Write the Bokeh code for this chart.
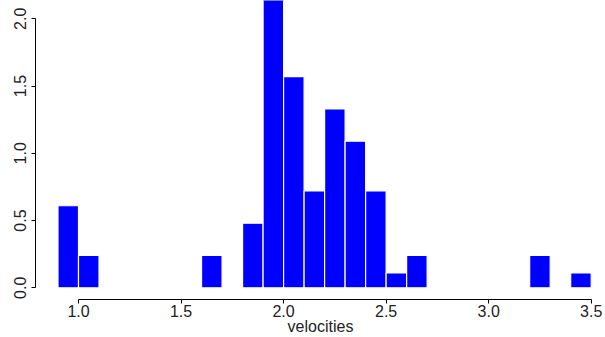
from bokeh.plotting import figure
from bokeh.models import Range1d, FixedTicker, PrintfTickFormatter
from bokeh.embed import file_html
from bokeh.resources import INLINE

# histogram of velocities (density scale), bin width 0.1
bin_left = [0.9, 1.0, 1.6, 1.8, 1.9, 2.0, 2.1, 2.2, 2.3, 2.4, 2.5, 2.6, 3.2, 3.4]
density = [0.61, 0.24, 0.24, 0.48, 2.2, 1.57, 0.72, 1.33, 1.09, 0.72, 0.11, 0.24, 0.24, 0.11]
bin_width = 0.1
x_ticks = [1.0, 1.5, 2.0, 2.5, 3.0, 3.5]
y_ticks = [0.0, 0.5, 1.0, 1.5, 2.0]
x_label = "velocities"

bin_right = [b + bin_width for b in bin_left]

p = figure(width=605, height=337, output_backend="svg", toolbar_location=None,
           x_range=Range1d(0.7903, 3.5697), y_range=Range1d(-0.0871, 2.136),
           min_border_left=35, min_border_right=0, min_border_top=0, min_border_bottom=0)
p.outline_line_color = None
p.grid.visible = False
p.background_fill_color = "white"

p.quad(left=bin_left, right=bin_right, bottom=0, top=density,
       fill_color="#0000FF", line_color="white", line_width=1.2)

FONT = "Liberation Sans"
for ax in (p.xaxis[0], p.yaxis[0]):
    ax.axis_line_color = "black"
    ax.major_tick_line_color = "black"
    ax.minor_tick_line_color = None
    ax.major_tick_in = 0
    ax.major_tick_out = 4
    ax.major_label_text_font = FONT
    ax.major_label_text_font_size = "16px"
    ax.major_label_text_color = "#222222"
    ax.formatter = PrintfTickFormatter(format="%.1f")

p.xaxis[0].ticker = FixedTicker(ticks=x_ticks)
p.xaxis[0].bounds = (x_ticks[0], x_ticks[-1])
p.xaxis[0].major_label_standoff = 1
p.xaxis[0].axis_label = x_label
p.xaxis[0].axis_label_text_font = FONT
p.xaxis[0].axis_label_text_font_size = "16px"
p.xaxis[0].axis_label_text_font_style = "normal"
p.xaxis[0].axis_label_text_color = "#222222"
p.xaxis[0].axis_label_standoff = -2

p.yaxis[0].ticker = FixedTicker(ticks=y_ticks)
p.yaxis[0].bounds = (y_ticks[0], y_ticks[-1])
p.yaxis[0].major_label_orientation = "vertical"
p.yaxis[0].major_label_standoff = 5

open("out.html", "w").write(file_html(p, INLINE))
